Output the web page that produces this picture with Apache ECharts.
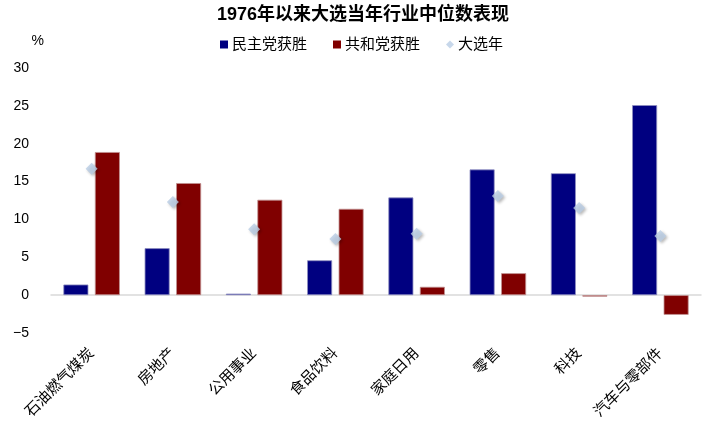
<!DOCTYPE html>
<html><head><meta charset="utf-8">
<script src="https://cdn.jsdelivr.net/npm/echarts@6/dist/echarts.min.js"></script>
<style>html,body{margin:0;padding:0;background:#fff}#c{width:723px;height:437px}</style>
</head><body><div id="c"></div>
<script>
var categories = ['石油燃气煤炭','房地产','公用事业','食品饮料','家庭日用','零售','科技','汽车与零部件'];
var demWin = [1.4, 6.2, 0.2, 4.6, 12.9, 16.6, 16.1, 25.1];
var repWin = [18.9, 14.8, 12.6, 11.4, 1.1, 2.9, -0.2, -2.6];
var electionYear = [16.7, 12.3, 8.7, 7.4, 8.1, 13.1, 11.5, 7.8];
var yTicks = [-5, 0, 5, 10, 15, 20, 25, 30];
var FONT = '"Liberation Sans", "Noto Sans CJK SC", sans-serif';
var chart = echarts.init(document.getElementById('c'));
chart.setOption({
  animation: false,
  title: {text: '1976年以来大选当年行业中位数表现', left: 358, top: 1, textAlign: 'center',
    textStyle: {fontFamily: FONT, fontSize: 18, fontWeight: 'bold', color: '#000'}},
  legend: {top: 32, left: 'center', itemWidth: 8, itemHeight: 8, itemGap: 26,
    itemStyle: {borderWidth: 0, shadowBlur: 0, shadowOffsetX: 0, shadowOffsetY: 0},
    textStyle: {fontFamily: FONT, fontSize: 15, color: '#000', padding: [0,0,0,-1]},
    data: [{name: '民主党获胜', icon: 'rect'}, {name: '共和党获胜', icon: 'rect'}, {name: '大选年', icon: 'diamond'}]},
  grid: {left: 51, right: 22, top: 68, bottom: 104, containLabel: false},
  xAxis: {type: 'category', data: categories,
    axisLine: {onZero: true, lineStyle: {color: '#D9D9D9', width: 1.5}},
    axisTick: {show: false},
    axisLabel: {rotate: 45, interval: 0, margin: 18, fontFamily: FONT, fontSize: 15, color: '#000'}},
  yAxis: {type: 'value', min: yTicks[0], max: yTicks[yTicks.length-1], interval: 5,
    name: '%', nameLocation: 'end', nameGap: 20,
    nameTextStyle: {fontFamily: FONT, fontSize: 14, color: '#000', align: 'right', padding: [0, 7, 0, 0]},
    axisLine: {show: false}, axisTick: {show: false}, splitLine: {show: false},
    axisLabel: {margin: 22, fontFamily: FONT, fontSize: 14, color: '#000', padding: [3, 0, 0, 0],
      formatter: function(v){ return v < 0 ? '\u2212' + Math.abs(v) : String(v); }}},
  series: [
    {name: '民主党获胜', type: 'bar', data: demWin, barWidth: 25, barGap: '26%',
      itemStyle: {color: '#000080', borderColor: '#8E8EC0', borderWidth: 0.8}},
    {name: '共和党获胜', type: 'bar', data: repWin, barWidth: 25, barGap: '26%',
      itemStyle: {color: '#800000', borderColor: '#C09090', borderWidth: 0.8}},
    {name: '大选年', type: 'scatter', data: electionYear, symbol: 'diamond', symbolSize: [12, 12],
      itemStyle: {color: '#B9CDE5', shadowBlur: 3, shadowColor: 'rgba(0,0,0,0.35)', shadowOffsetX: 1.5, shadowOffsetY: 1.5}, z: 5}
  ]
});
</script></body></html>
